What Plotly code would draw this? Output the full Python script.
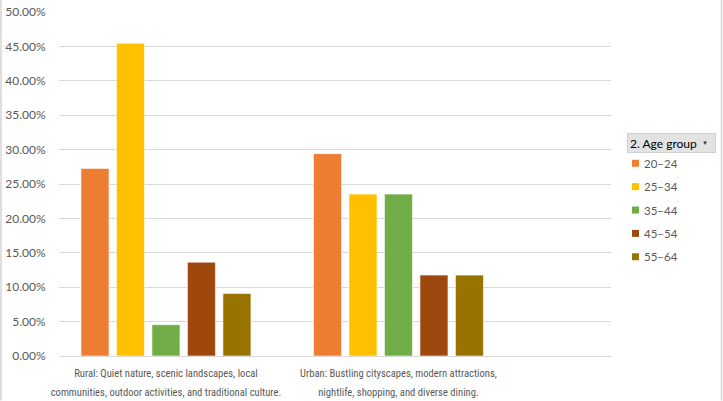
import plotly.graph_objects as go

categories = [
    "Rural: Quiet nature, scenic landscapes, local<br>communities, outdoor activities, and traditional culture.",
    "Urban: Bustling cityscapes, modern attractions,<br>nightlife, shopping, and diverse dining.",
]
series_names = ["20–24", "25–34", "35–44", "45–54", "55–64"]
series_values = [
    [0.2727, 0.2941],
    [0.4545, 0.2353],
    [0.0455, 0.2353],
    [0.1364, 0.1176],
    [0.0909, 0.1176],
]
colors = ["#ED7D31", "#FFC000", "#70AD47", "#9E480E", "#997300"]
y_ticks = [i * 0.05 for i in range(11)]
y_tick_labels = [f"{v*100:.2f}%" for v in y_ticks]
legend_title = "2. Age group"

PL, PR, PT, PB = 59, 611, 12, 356.5
PW, PH = PR - PL, PB - PT

def px_x(x):
    return (x - PL) / PW

def px_y(y):
    return (PB - y) / PH

fig = go.Figure()
for name, vals, col in zip(series_names, series_values, colors):
    fig.add_trace(go.Bar(
        x=categories, y=vals, name=name, showlegend=False,
        marker=dict(color=col, line=dict(color="rgba(255,255,255,0.6)", width=1)),
    ))

NARROW = "Liberation Sans Narrow, Roboto Condensed, DejaVu Sans Condensed, sans-serif"
x_tick_text = [
    "<br>".join(f"<span style='font-size:10.6px'>{line}</span>" for line in c.split("<br>"))
    for c in categories
]

fig.update_layout(
    width=723, height=401,
    margin=dict(l=PL, r=723 - PR, t=PT, b=401 - PB, autoexpand=False),
    paper_bgcolor="white", plot_bgcolor="white",
    barmode="group", bargap=0.237, bargroupgap=0.21,
    font=dict(family="Lato, Open Sans, sans-serif", size=11.5, color="#595959"),
    showlegend=False,
)
fig.update_xaxes(
    type="category", range=[-0.46, 1.914], showgrid=False, showline=False,
    tickvals=categories, ticktext=x_tick_text,
    ticks="outside", ticklen=2, tickcolor="rgba(0,0,0,0)", tickangle=0, automargin=False,
    tickfont=dict(family=NARROW, size=14.6, color="#595959"),
)
fig.update_yaxes(
    range=[0, 0.5], tickvals=y_ticks, ticktext=y_tick_labels,
    showgrid=True, gridcolor="#D9D9D9", gridwidth=1,
    zeroline=True, zerolinecolor="#D9D9D9", zerolinewidth=1,
    ticks="outside", ticklen=10, tickcolor="rgba(0,0,0,0)", automargin=False,
    tickfont=dict(size=12, color="#595959"),
)

# legend header (pivot field button)
fig.add_annotation(
    xref="paper", yref="paper", x=px_x(627), y=px_y(133),
    xanchor="left", yanchor="top", showarrow=False, align="left",
    text=legend_title,
    font=dict(size=12, color="#000000"),
    bgcolor="#E3E3E3", bordercolor="#D0D0D0", borderwidth=1, borderpad=2,
    width=83, height=14,
)
fig.add_annotation(
    xref="paper", yref="paper", x=px_x(705), y=px_y(142.5),
    xanchor="center", yanchor="middle", showarrow=False,
    text="▼", font=dict(size=6, color="#333333"),
)
# legend entries
for i, (name, col) in enumerate(zip(series_names, colors)):
    yc = 163.5 + i * 23.4
    fig.add_shape(type="rect", xref="paper", yref="paper",
                  x0=px_x(632), x1=px_x(639), y0=px_y(yc - 3.5), y1=px_y(yc + 3.5),
                  fillcolor=col, line=dict(width=0))
    fig.add_annotation(xref="paper", yref="paper", x=px_x(642), y=px_y(yc),
                       xanchor="left", yanchor="middle", showarrow=False,
                       text=name, font=dict(size=11.5, color="#595959"))
# chart border lines
for xp in [px_x(1), px_x(721.5)]:
    fig.add_shape(type="line", xref="paper", yref="paper", x0=xp, x1=xp,
                  y0=px_y(0), y1=px_y(401),
                  line=dict(color="#D4D4D4", width=1.5))

fig.write_html("out.html", config={"displayModeBar": False},
               post_script="document.body.style.margin='0';")
